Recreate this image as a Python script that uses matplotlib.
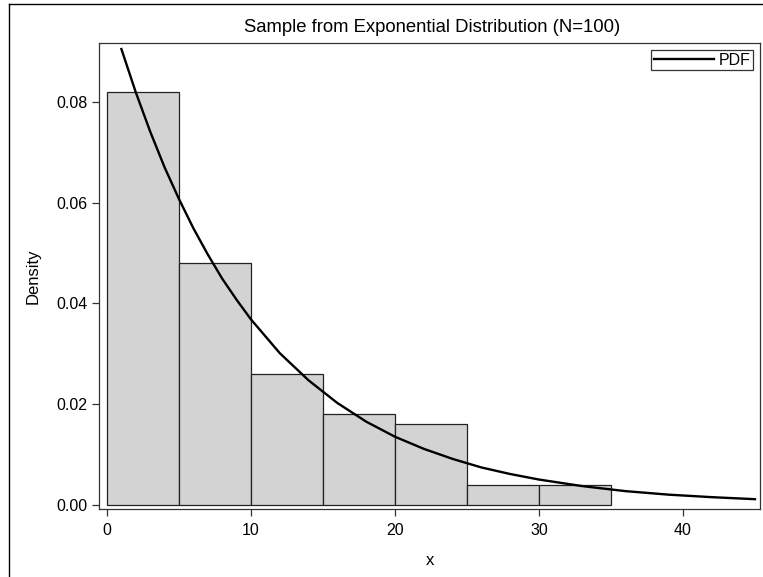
import matplotlib
matplotlib.use("Agg")
import matplotlib.pyplot as plt
from matplotlib.lines import Line2D

plt.rcParams['font.family'] = ['Liberation Sans', 'DejaVu Sans']

# histogram bins (left edges, width 5) and densities
bin_left = [0, 5, 10, 15, 20, 25, 30]
bin_width = 5
density = [0.082, 0.048, 0.026, 0.018, 0.016, 0.004, 0.004]

# fitted PDF curve
pdf_x = [1, 2, 3, 4, 5, 6, 7, 8, 9, 10, 12, 14, 16, 18, 20, 22, 24, 26, 28, 30,
         33, 36, 39, 42, 45]
pdf_y = [0.0905, 0.0819, 0.0741, 0.0670, 0.0607, 0.0549, 0.0497, 0.0449, 0.0407,
         0.0368, 0.0301, 0.0247, 0.0202, 0.0165, 0.0135, 0.0111, 0.0091, 0.0074,
         0.0061, 0.0050, 0.0037, 0.0027, 0.0020, 0.0015, 0.0011]

x_ticks = [0, 10, 20, 30, 40]
y_ticks = [0.00, 0.02, 0.04, 0.06, 0.08]

W, H = 763, 577
fig = plt.figure(figsize=(W / 100, H / 100), dpi=100)

# outer border of the graph area (only top and left edges are in view)
bx, by = 8.5 / W, 1 - 3.5 / H
fig.add_artist(Line2D([bx, 1.0], [by, by], transform=fig.transFigure, color='black', linewidth=1.0))
fig.add_artist(Line2D([bx, bx], [0.0, by], transform=fig.transFigure, color='black', linewidth=1.0))

ax = fig.add_axes([99 / W, 1 - 509 / H, (760 - 99) / W, (509 - 43) / H])
ax.bar(bin_left, density, width=bin_width, align='edge', color='#D3D3D3',
       edgecolor='#222222', linewidth=0.9, zorder=2)
ax.plot(pdf_x, pdf_y, color='black', linewidth=1.7, label='PDF', zorder=3)

ax.set_xlim(-0.556, 45.35)
ax.set_ylim(-0.00085, 0.0917)
ax.set_xticks(x_ticks)
ax.set_yticks(y_ticks)
ax.set_yticklabels(['%.2f' % v for v in y_ticks])
ax.tick_params(length=5, width=0.9, labelsize=11.5, color='#333333')
ax.tick_params(axis='y', pad=3.5)
ax.tick_params(axis='x', pad=5)
for s in ax.spines.values():
    s.set_color('#333333')
    s.set_linewidth(0.9)

ax.set_xlabel('x', fontsize=12, labelpad=11)
ax.set_ylabel('Density', fontsize=12, labelpad=11)
ax.set_title('Sample from Exponential Distribution (N=100)', fontsize=13.3, pad=8, x=0.504)

leg = ax.legend(loc='upper right', fontsize=11.5, handlelength=3.75, frameon=True,
                fancybox=False, borderpad=0.15, borderaxespad=0.45, handletextpad=0.3)
leg.get_frame().set_edgecolor('black')
leg.get_frame().set_linewidth(0.9)

fig.savefig('out.png', dpi=100)
